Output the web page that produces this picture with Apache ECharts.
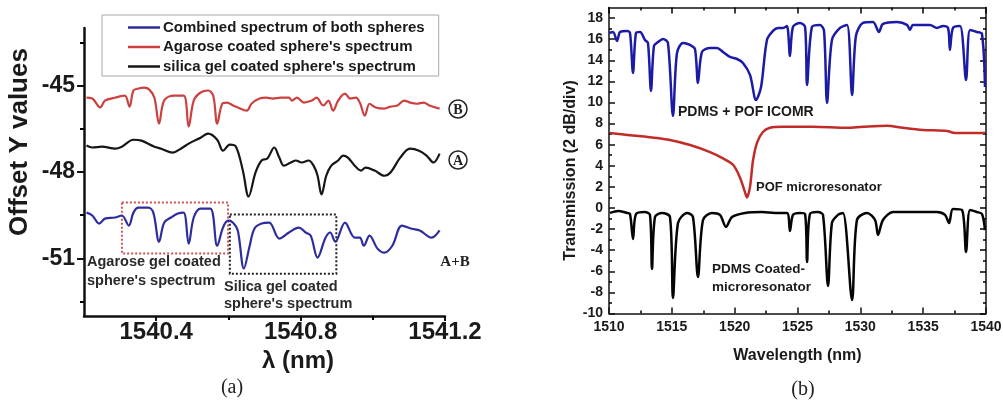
<!DOCTYPE html>
<html><head><meta charset="utf-8">
<script src="https://cdn.jsdelivr.net/npm/echarts@6/dist/echarts.min.js"></script>
<style>html,body{margin:0;padding:0;background:#fff}#c{width:1003px;height:404px}</style>
</head><body><div id="c"></div>
<script>
// ---------- Panel (a) data ----------
const aCombinedLambda = [1540.207,1540.223,1540.242,1540.258,1540.286,1540.305,1540.324,1540.337,1540.351,1540.378,1540.392,1540.408,1540.422,1540.441,1540.460,1540.476,1540.490,1540.504,1540.523,1540.550,1540.569,1540.585,1540.599,1540.613,1540.626,1540.643,1540.659,1540.672,1540.692,1540.713,1540.741,1540.768,1540.795,1540.814,1540.828,1540.847,1540.869,1540.882,1540.896,1540.923,1540.950,1540.964,1540.975,1540.991,1541.013,1541.032,1541.054,1541.081,1541.108,1541.130,1541.163,1541.185];
const aCombinedOffset = [-49.41,-49.51,-49.79,-49.62,-49.58,-49.51,-49.86,-49.41,-49.24,-49.24,-49.41,-50.42,-49.76,-49.58,-49.44,-49.41,-50.49,-49.58,-49.27,-49.27,-50.56,-49.93,-49.69,-49.76,-50.03,-51.35,-50.56,-49.97,-49.79,-49.76,-50.31,-50.10,-49.93,-50.10,-50.21,-50.97,-50.28,-50.10,-50.42,-49.76,-50.28,-50.28,-50.56,-50.21,-50.66,-50.80,-50.56,-49.86,-49.97,-50.03,-50.28,-50.03];
const aAgaroseLambda = [1540.207,1540.223,1540.245,1540.258,1540.286,1540.313,1540.326,1540.337,1540.351,1540.367,1540.381,1540.395,1540.408,1540.422,1540.449,1540.476,1540.490,1540.504,1540.523,1540.544,1540.558,1540.569,1540.583,1540.596,1540.613,1540.626,1540.651,1540.664,1540.686,1540.705,1540.722,1540.746,1540.768,1540.776,1540.790,1540.809,1540.831,1540.844,1540.863,1540.877,1540.890,1540.904,1540.923,1540.937,1540.953,1540.964,1540.978,1540.991,1541.008,1541.032,1541.049,1541.068,1541.087,1541.103,1541.122,1541.141,1541.157,1541.185];
const aAgaroseOffset = [-45.42,-45.45,-45.76,-45.52,-45.42,-45.35,-45.73,-45.17,-45.10,-45.07,-45.14,-45.42,-46.32,-45.52,-45.35,-45.35,-46.42,-45.52,-45.24,-45.17,-45.35,-46.32,-45.63,-45.59,-45.69,-45.76,-45.87,-45.63,-45.45,-45.42,-45.45,-45.42,-45.42,-45.52,-45.42,-45.59,-45.52,-45.42,-45.69,-45.52,-45.87,-45.52,-45.28,-45.45,-45.42,-45.59,-46.04,-45.63,-45.76,-45.80,-45.73,-45.69,-45.52,-45.59,-45.63,-45.59,-45.69,-45.80];
const aSilicaLambda = [1540.207,1540.223,1540.250,1540.286,1540.305,1540.337,1540.359,1540.395,1540.414,1540.446,1540.468,1540.495,1540.523,1540.544,1540.569,1540.585,1540.604,1540.621,1540.640,1540.656,1540.675,1540.692,1540.708,1540.727,1540.741,1540.754,1540.773,1540.787,1540.803,1540.822,1540.836,1540.847,1540.858,1540.871,1540.885,1540.904,1540.918,1540.931,1540.950,1540.967,1540.980,1541.005,1541.032,1541.049,1541.076,1541.103,1541.128,1541.149,1541.168,1541.185];
const aSilicaOffset = [-47.08,-47.15,-47.12,-47.19,-47.12,-46.88,-46.91,-47.12,-47.19,-47.33,-47.19,-46.98,-46.81,-46.67,-46.88,-47.26,-47.05,-47.12,-47.95,-48.85,-48.02,-47.60,-47.53,-47.15,-47.50,-47.78,-47.67,-47.60,-47.67,-47.60,-47.78,-48.13,-48.78,-48.13,-47.78,-47.60,-47.43,-47.50,-47.78,-47.95,-47.85,-47.95,-48.13,-48.02,-47.50,-47.19,-47.26,-47.43,-47.67,-47.36];
const aYTickLabels = [-51, -48, -45];
const aYMinorTicks = [-52.5, -49.5, -46.5, -43.5];
const aXTickLabels = [1540.4, 1540.8, 1541.2];
const aXMinorTicks = [1540.6, 1541.0];
const aSeriesNames = ['Combined spectrum of both spheres', "Agarose coated sphere's spectrum", "silica gel coated sphere's spectrum"];

// ---------- Panel (b) data ----------
const bIcomrLambda = [1510.00,1510.32,1510.64,1510.88,1511.43,1511.67,1511.91,1512.15,1512.47,1512.86,1513.10,1513.34,1513.58,1513.90,1514.30,1514.69,1515.09,1515.41,1515.89,1516.45,1516.84,1517.08,1517.40,1518.04,1518.59,1519.07,1519.63,1520.19,1520.66,1521.22,1521.70,1522.10,1522.57,1523.05,1523.45,1523.85,1524.16,1524.40,1524.64,1525.20,1525.60,1525.76,1526.15,1526.79,1527.11,1527.35,1527.74,1528.38,1528.94,1529.34,1529.65,1530.21,1531.01,1531.48,1531.80,1532.92,1533.71,1533.95,1534.19,1535.54,1536.10,1536.58,1536.98,1537.13,1537.37,1537.93,1538.41,1538.73,1539.28,1539.68,1539.92];
const bIcomrDb = [16.59,16.68,15.83,16.68,16.78,16.59,12.80,16.59,16.68,15.92,15.64,11.09,15.36,15.73,16.02,15.64,8.72,14.69,15.64,15.45,15.07,11.85,14.79,15.17,15.17,14.79,14.31,14.12,13.74,12.61,10.24,11.47,15.92,16.78,17.06,17.06,17.25,14.41,17.16,17.54,17.16,11.66,17.16,17.35,16.78,9.95,15.92,17.06,17.35,10.71,16.30,17.54,17.63,16.68,17.44,17.63,17.35,16.87,17.35,17.35,17.06,17.25,17.06,14.98,17.06,17.25,12.13,16.87,16.68,16.49,11.47];
const bPofLambda = [1510.08,1511.67,1513.26,1514.85,1516.45,1518.04,1519.07,1519.87,1520.42,1520.82,1520.98,1521.22,1521.46,1521.78,1522.25,1522.81,1523.85,1526.23,1528.94,1530.21,1532.12,1533.39,1534.99,1536.90,1537.53,1538.17,1539.92];
const bPofDb = [7.1,6.9,6.7,6.45,5.97,5.3,4.7,4.1,2.9,1.5,1.0,2.0,4.5,6.2,7.2,7.6,7.7,7.7,7.6,7.7,7.8,7.6,7.4,7.3,7.1,7.1,7.1];
const bPdmsLambda = [1510.08,1510.72,1511.43,1511.67,1511.91,1512.15,1512.86,1513.26,1513.42,1513.66,1514.22,1514.85,1515.09,1515.49,1516.21,1516.68,1517.08,1517.48,1518.19,1518.83,1519.31,1519.79,1520.82,1522.17,1523.21,1524.16,1524.40,1524.64,1525.20,1525.60,1525.76,1525.99,1526.63,1527.03,1527.43,1527.74,1528.22,1528.62,1529.34,1529.73,1530.53,1531.17,1531.41,1531.80,1532.60,1533.95,1536.10,1536.74,1537.06,1537.37,1538.09,1538.41,1538.73,1539.28,1539.68,1539.92];
const bPdmsDb = [-0.47,-0.28,-0.47,-0.57,-2.94,-0.57,-0.38,-0.66,-5.78,-0.85,-0.47,-0.85,-8.53,-1.42,-0.47,-0.85,-6.54,-1.14,-0.47,-0.66,-1.80,-0.85,-0.47,-0.38,-0.47,-0.47,-2.18,-0.66,-0.47,-0.57,-5.12,-0.57,-0.38,-0.66,-7.39,-1.42,-0.66,-0.47,-8.72,-1.14,-0.47,-1.14,-2.56,-1.14,-0.38,-0.38,-0.38,-0.66,-1.42,-0.09,-0.19,-4.17,-0.19,-0.38,-0.57,-2.09];
const bXTickLabels = [1510, 1515, 1520, 1525, 1530, 1535, 1540];
const bXMinorTicks = [1512.5, 1517.5, 1522.5, 1527.5, 1532.5, 1537.5];
const bYTickLabels = [-10,-8,-6,-4,-2,0,2,4,6,8,10,12,14,16,18];
const bYMinorTicks = [-9,-7,-5,-3,-1,1,3,5,7,9,11,13,15,17];

// ---------- helpers ----------
const zip = (xs, ys) => xs.map((x, i) => [x, ys[i]]);
const SANS = '"Liberation Sans", Arial, sans-serif';
const SERIF = '"Liberation Serif", "Times New Roman", serif';
const noLine = { show: false, onZero: false };
const noLabel = { show: false };
const noSplit = { show: false };

function tickAxis(gridIndex, position, min, max, ticks, len, inside, lineW) {
  return {
    type: 'value', gridIndex, position, min, max,
    axisLine: noLine, splitLine: noSplit, axisLabel: noLabel,
    axisTick: { show: true, inside, length: len, customValues: ticks, lineStyle: { color: '#000', width: lineW } }
  };
}

const chart = echarts.init(document.getElementById('c'), null, { renderer: 'canvas' });

const option = {
  animation: false,
  backgroundColor: '#fff',
  grid: [
    { left: 84, top: 28, width: 361, height: 288, outerBoundsMode: 'none' },
    { left: 609, top: 7.5, width: 377, height: 306, outerBoundsMode: 'none' }
  ],
  legend: {
    data: aSeriesNames,
    orient: 'vertical',
    left: 102, top: 15,
    padding: [5, 14, 2, 26],
    itemGap: 4.5,
    itemWidth: 32, itemHeight: 2.5,
    icon: 'rect',
    borderColor: '#a8a8a8', borderWidth: 1,
    textStyle: { fontFamily: SANS, fontWeight: 'bold', fontSize: 15, lineHeight: 15, color: '#1a1a1a', padding: [0, 0, 0, -2] }
  },
  xAxis: [
    {
      type: 'value', gridIndex: 0, position: 'bottom', min: 1540.2, max: 1541.2,
      axisLine: { show: true, onZero: false, lineStyle: { color: '#111', width: 2.5 } },
      axisTick: { show: true, customValues: aXTickLabels, length: 5, lineStyle: { color: '#111', width: 2 } },
      axisLabel: { customValues: aXTickLabels, formatter: v => v.toFixed(1), fontFamily: SANS, fontWeight: 'bold', fontSize: 24, color: '#1a1a1a', margin: 4 },
      splitLine: noSplit,
      name: 'λ (nm)', nameLocation: 'middle', nameGap: 23,
      nameTextStyle: { fontFamily: SANS, fontWeight: 'bold', fontSize: 24, color: '#1a1a1a', padding: [0, 0, 0, 67] }
    },
    tickAxis(0, 'bottom', 1540.2, 1541.2, aXMinorTicks, 4, false, 2),
    {
      type: 'value', gridIndex: 1, position: 'bottom', min: 1510, max: 1540,
      axisLine: { show: true, onZero: false, lineStyle: { color: '#111', width: 1.5 } },
      axisTick: { show: true, inside: true, customValues: bXTickLabels, length: 6, lineStyle: { color: '#111', width: 1.5 } },
      axisLabel: { customValues: bXTickLabels, formatter: v => String(v), fontFamily: SANS, fontWeight: 'bold', fontSize: 14, color: '#1a1a1a', margin: 7 },
      splitLine: noSplit,
      name: 'Wavelength (nm)', nameLocation: 'middle', nameGap: 34,
      nameTextStyle: { fontFamily: SANS, fontWeight: 'bold', fontSize: 16, color: '#1a1a1a' }
    },
    tickAxis(1, 'bottom', 1510, 1540, bXMinorTicks, 3, true, 1.5),
    Object.assign(tickAxis(1, 'top', 1510, 1540, bXTickLabels, 6, true, 1.5),
      { axisLine: { show: true, onZero: false, lineStyle: { color: '#111', width: 1.5 } } }),
    tickAxis(1, 'top', 1510, 1540, bXMinorTicks, 3, true, 1.5)
  ],
  yAxis: [
    {
      type: 'value', gridIndex: 0, position: 'left', min: -53, max: -43,
      axisLine: { show: true, onZero: false, lineStyle: { color: '#111', width: 2.5 } },
      axisTick: { show: true, customValues: aYTickLabels, length: 7, lineStyle: { color: '#111', width: 2 } },
      axisLabel: { customValues: aYTickLabels, fontFamily: SANS, fontWeight: 'bold', fontSize: 23, color: '#1a1a1a', margin: 9 },
      splitLine: noSplit,
      name: 'Offset Y values', nameLocation: 'middle', nameGap: 51, nameRotate: 90,
      nameTextStyle: { fontFamily: SANS, fontWeight: 'bold', fontSize: 26, color: '#1a1a1a', padding: [0, 0, 0, 60] }
    },
    tickAxis(0, 'left', -53, -43, aYMinorTicks, 4, false, 2),
    {
      type: 'value', gridIndex: 1, position: 'left', min: -10, max: 19,
      axisLine: { show: true, onZero: false, lineStyle: { color: '#111', width: 1.5 } },
      axisTick: { show: true, inside: true, customValues: bYTickLabels, length: 6, lineStyle: { color: '#111', width: 1.5 } },
      axisLabel: { customValues: bYTickLabels, fontFamily: SANS, fontWeight: 'bold', fontSize: 14, color: '#1a1a1a', margin: 6 },
      splitLine: noSplit,
      name: 'Transmission (2 dB/div)', nameLocation: 'middle', nameGap: 30, nameRotate: 90,
      nameTextStyle: { fontFamily: SANS, fontWeight: 'bold', fontSize: 16, color: '#1a1a1a', padding: [0, 20, 0, 0] }
    },
    tickAxis(1, 'left', -10, 19, bYMinorTicks, 3, true, 1.5),
    Object.assign(tickAxis(1, 'right', -10, 19, bYTickLabels, 6, true, 1.5),
      { axisLine: { show: true, onZero: false, lineStyle: { color: '#111', width: 1.5 } } }),
    tickAxis(1, 'right', -10, 19, bYMinorTicks, 3, true, 1.5)
  ],
  series: [
    {
      name: aSeriesNames[0], type: 'line', xAxisIndex: 0, yAxisIndex: 0,
      data: zip(aCombinedLambda, aCombinedOffset), showSymbol: false, smooth: 0.35,
      color: '#2d2d9e', lineStyle: { width: 2.2, color: '#2d2d9e' },
      markArea: {
        silent: true, label: { show: false },
        data: [
          [{ xAxis: 1540.305, yAxis: -49.06, itemStyle: { color: 'rgba(0,0,0,0)', borderColor: '#c85555', borderWidth: 2, borderType: [2, 2] } },
           { xAxis: 1540.599, yAxis: -50.83 }],
          [{ xAxis: 1540.604, yAxis: -49.48, itemStyle: { color: 'rgba(0,0,0,0)', borderColor: '#222', borderWidth: 2, borderType: [2, 2] } },
           { xAxis: 1540.899, yAxis: -51.53 }]
        ]
      }
    },
    {
      name: aSeriesNames[1], type: 'line', xAxisIndex: 0, yAxisIndex: 0,
      data: zip(aAgaroseLambda, aAgaroseOffset), showSymbol: false, smooth: 0.35,
      color: '#cc4040', lineStyle: { width: 2.2, color: '#cc4040' }
    },
    {
      name: aSeriesNames[2], type: 'line', xAxisIndex: 0, yAxisIndex: 0,
      data: zip(aSilicaLambda, aSilicaOffset), showSymbol: false, smooth: 0.35,
      color: '#161616', lineStyle: { width: 2.2, color: '#161616' }
    },
    {
      name: 'PDMS + POF ICOMR', type: 'line', xAxisIndex: 2, yAxisIndex: 2,
      data: zip(bIcomrLambda, bIcomrDb), showSymbol: false, smooth: 0.3,
      lineStyle: { width: 2.5, color: '#1b1ba6' }
    },
    {
      name: 'POF microresonator', type: 'line', xAxisIndex: 2, yAxisIndex: 2,
      data: zip(bPofLambda, bPofDb), showSymbol: false, smooth: 0.3,
      lineStyle: { width: 2.5, color: '#c22c28' }
    },
    {
      name: 'PDMS Coated-microresonator', type: 'line', xAxisIndex: 2, yAxisIndex: 2,
      data: zip(bPdmsLambda, bPdmsDb), showSymbol: false, smooth: 0.3,
      lineStyle: { width: 2.5, color: '#050505' }
    }
  ],
  graphic: [
    // panel (a) annotations
    { type: 'text', style: { text: 'Agarose gel coated', x: 87, y: 262, align: 'left', verticalAlign: 'middle', font: 'bold 14.5px ' + SANS, fill: '#2a2a2a' } },
    { type: 'text', style: { text: "sphere's spectrum", x: 87, y: 281, align: 'left', verticalAlign: 'middle', font: 'bold 14.5px ' + SANS, fill: '#2a2a2a' } },
    { type: 'text', style: { text: 'Silica gel coated', x: 224, y: 287, align: 'left', verticalAlign: 'middle', font: 'bold 14.5px ' + SANS, fill: '#2a2a2a' } },
    { type: 'text', style: { text: "sphere's spectrum", x: 224, y: 304, align: 'left', verticalAlign: 'middle', font: 'bold 14.5px ' + SANS, fill: '#2a2a2a' } },
    { type: 'circle', shape: { cx: 458, cy: 109, r: 9 }, style: { fill: 'none', stroke: '#222', lineWidth: 1.5 } },
    { type: 'text', style: { text: 'B', x: 458, y: 110, align: 'center', verticalAlign: 'middle', font: 'bold 14px ' + SERIF, fill: '#222' } },
    { type: 'circle', shape: { cx: 458, cy: 160, r: 9 }, style: { fill: 'none', stroke: '#222', lineWidth: 1.5 } },
    { type: 'text', style: { text: 'A', x: 458, y: 161, align: 'center', verticalAlign: 'middle', font: 'bold 14px ' + SERIF, fill: '#222' } },
    { type: 'text', style: { text: 'A+B', x: 455, y: 262, align: 'center', verticalAlign: 'middle', font: 'bold 15px ' + SERIF, fill: '#222' } },
    { type: 'text', style: { text: '(a)', x: 232, y: 388, align: 'center', verticalAlign: 'middle', font: '20px ' + SERIF, fill: '#222' } },
    // panel (b) annotations
    { type: 'text', style: { text: 'PDMS + POF ICOMR', x: 678, y: 112, align: 'left', verticalAlign: 'middle', font: 'bold 14px ' + SANS, fill: '#1a1a1a' } },
    { type: 'text', style: { text: 'POF microresonator', x: 756, y: 187, align: 'left', verticalAlign: 'middle', font: 'bold 13px ' + SANS, fill: '#1a1a1a' } },
    { type: 'text', style: { text: 'PDMS Coated-', x: 712, y: 269, align: 'left', verticalAlign: 'middle', font: 'bold 13.5px ' + SANS, fill: '#1a1a1a' } },
    { type: 'text', style: { text: 'microresonator', x: 712, y: 287, align: 'left', verticalAlign: 'middle', font: 'bold 13.5px ' + SANS, fill: '#1a1a1a' } },
    { type: 'text', style: { text: '(b)', x: 803, y: 390, align: 'center', verticalAlign: 'middle', font: '20px ' + SERIF, fill: '#222' } }
  ]
};
chart.setOption(option);
</script>
</body></html>
